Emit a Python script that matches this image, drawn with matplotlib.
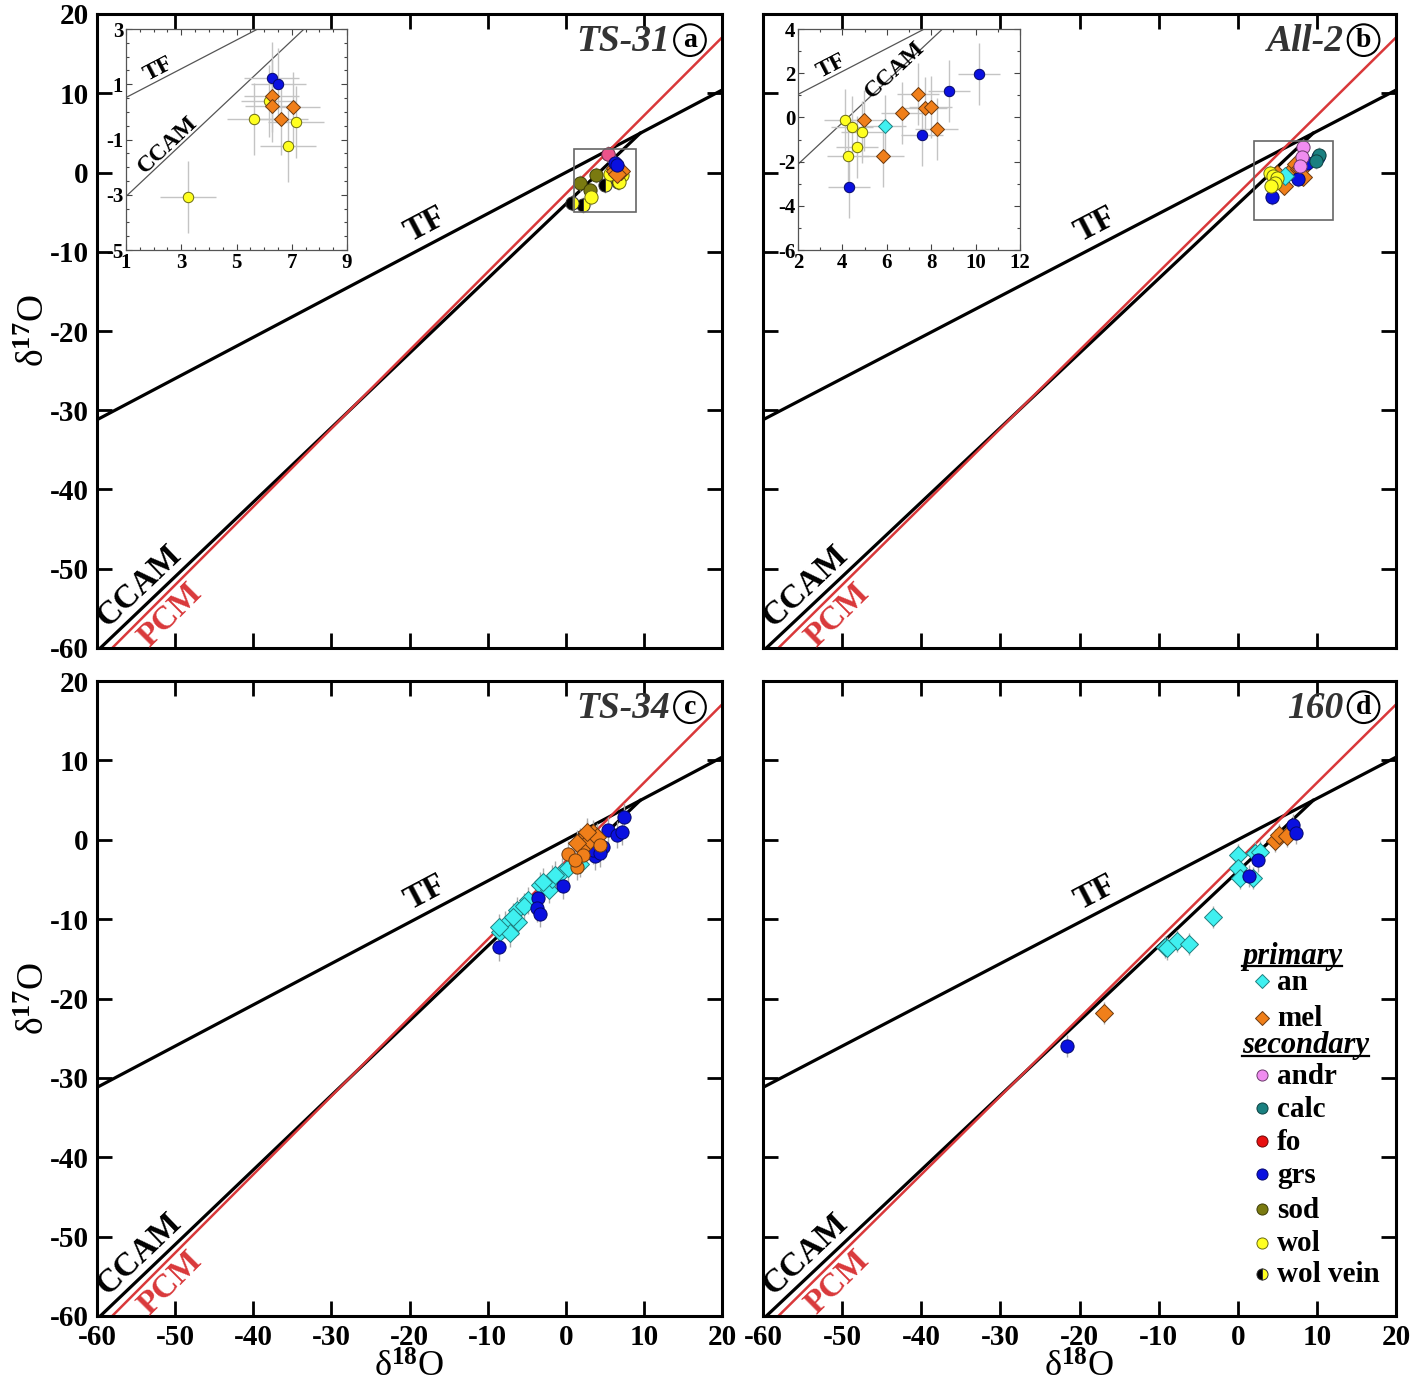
import matplotlib.pyplot as plt
import numpy as np
from matplotlib.patches import Rectangle

plt.rcParams['font.family'] = ['Liberation Serif', 'DejaVu Serif']
plt.rcParams['font.weight'] = 'bold'
plt.rcParams['axes.unicode_minus'] = False
plt.rcParams['mathtext.fontset'] = 'custom'
plt.rcParams['mathtext.rm'] = 'Liberation Serif:bold'
plt.rcParams['mathtext.default'] = 'rm'

# reference lines: d17O = slope * d18O + intercept
tf_slope, tf_icpt = 0.52, 0.0
ccam_slope, ccam_icpt = 0.94, -4.0
pcm_slope, pcm_icpt = 0.987, -2.70

# ---- panel a : TS-31 ----
a_grs_x = [6.28, 6.52]
a_grs_y = [1.22, 1.00]
a_mel_x = [6.28, 6.30, 7.04, 6.60]
a_mel_y = [0.58, 0.22, 0.16, -0.25]
a_wol_x = [6.16, 5.65, 7.15, 6.86, 3.24]
a_wol_y = [0.38, -0.25, -0.37, -1.25, -3.07]
a_sod_x = [1.8, 3.9, 3.1]
a_sod_y = [-1.3, -0.3, -2.2]
a_vein_x = [0.8, 2.2, 5.0, 6.7]
a_vein_y = [-3.8, -4.1, -1.6, -1.2]
a_fo_x = [5.45]
a_fo_y = [2.3]
a_andr_x = [5.45]
a_andr_y = [2.3]

# ---- panel b : All-2 ----
b_wol_x = [4.11, 4.44, 4.90, 4.66, 4.26]
b_wol_y = [-0.11, -0.44, -0.68, -1.35, -1.74]
b_mel_x = [4.98, 5.83, 6.69, 7.41, 7.74, 7.97, 8.24]
b_mel_y = [-0.14, -1.74, 0.19, 1.05, 0.42, 0.47, -0.53]
b_an_x = [5.91]
b_an_y = [-0.38]
b_grs_x = [4.30, 7.59, 8.81, 10.15]
b_grs_y = [-3.13, -0.79, 1.21, 1.96]
b_andr_x = [8.2, 8.1, 7.9]
b_andr_y = [3.2, 1.9, 0.8]
b_calc_x = [10.3, 9.9]
b_calc_y = [2.2, 1.4]

# ---- panel c : TS-34 ----
c_an_x = [-8.4, -7.8, -6.3, -6.1, -6.7, -4.8, -3.3, -2.2, -1.8, -0.5, -7.1, -8.6,
          -5.4, -2.9, -1.4, 0.3, 1.8]
c_an_y = [-11.6, -10.7, -8.9, -10.3, -9.7, -7.6, -5.7, -6.3, -4.9, -4.0, -11.8, -11.0,
          -8.4, -5.3, -4.4, -3.6, -3.0]
c_grs_x = [-8.6, -3.5, -3.7, -3.3, -0.4, 3.7, 3.5, 4.8, 5.4, 6.5, 7.15, 7.4, 4.4]
c_grs_y = [-13.55, -7.4, -8.6, -9.3, -5.8, -2.1, -1.3, -0.9, 1.2, 0.6, 1.0, 2.9, -1.7]
c_mel_x = [1.8, 2.7, 3.5, 2.25, 3.1, 3.96, 1.4, 2.7]
c_mel_y = [-0.25, 0.6, 0.8, -0.9, -0.03, 0.4, -0.45, 1.0]
c_melr_x = [0.3, 1.4, 2.17, 4.4, 1.2]
c_melr_y = [-1.8, -3.4, -1.9, -0.66, -2.6]

# ---- panel d : 160 ----
d_an_x = [0.07, 0.07, 0.28, 1.96, 2.18, 2.8, -3.17, -9.2, -7.7, -6.1, -9.0]
d_an_y = [-1.9, -3.6, -4.86, -4.86, -1.7, -1.5, -9.7, -13.5, -12.8, -13.1, -13.7]
d_grs_x = [2.6, 1.4, 7.0, 7.36, -21.6]
d_grs_y = [-2.6, -4.6, 1.86, 0.9, -26.0]
d_mel_x = [4.7, 5.25, 6.2, -16.9]
d_mel_y = [-0.1, 0.6, 0.5, -21.8]

legend_primary = ['an', 'mel']
legend_secondary = ['andr', 'calc', 'fo', 'grs', 'sod', 'wol', 'wol vein']

styles = {
    'an':   dict(marker='D', mfc='#3ff0f0', mec='#1f7f7f'),
    'mel':  dict(marker='D', mfc='#f07f1a', mec='#6b3a10'),
    'melr': dict(marker='o', mfc='#f07f1a', mec='#6b3a10'),
    'andr': dict(marker='o', mfc='#f08cf0', mec='#6b3a6b'),
    'calc': dict(marker='o', mfc='#1a8080', mec='#0d4040'),
    'fo':   dict(marker='o', mfc='#e81010', mec='#6b0808'),
    'grs':  dict(marker='o', mfc='#0a10e0', mec='#05086b'),
    'sod':  dict(marker='o', mfc='#7a7a10', mec='#3d3d08'),
    'wol':  dict(marker='o', mfc='#ffff20', mec='#6b6b10'),
    'wol vein': dict(marker='o', mfc='black', mfcalt='#ffff20', fillstyle='left',
                     mec='#333333'),
}


def draw_points(ax, x, y, kind, xerr, yerr, ms, alpha=1.0, ecol='#c4c4c4'):
    ax.errorbar(x, y, xerr=xerr, yerr=yerr, fmt='none', ecolor=ecol,
                elinewidth=1, zorder=2)
    ax.plot(x, y, linestyle='none', markersize=ms, markeredgewidth=0.7,
            alpha=alpha, zorder=3, **styles[kind])


def base_panel(ax, name, letter):
    xs = np.array([-60.0, 20.0])
    ax.plot(xs, tf_slope * xs + tf_icpt, color='black', lw=2.3, zorder=1)
    x_meet = (ccam_icpt - tf_icpt) / (tf_slope - ccam_slope)
    xc = np.array([-60.0, x_meet])
    ax.plot(xc, ccam_slope * xc + ccam_icpt, color='black', lw=2.3, zorder=1)
    ax.plot(xs, pcm_slope * xs + pcm_icpt, color='#d9383a', lw=1.8, zorder=1)
    ax.set_xlim(-60, 20)
    ax.set_ylim(-60, 20)
    ax.set_xticks(np.arange(-60, 21, 10))
    ax.set_yticks(np.arange(-60, 21, 10))
    ax.tick_params(direction='in', length=11, width=2, top=True, right=True,
                   labelsize=21, pad=6)
    for s in ax.spines.values():
        s.set_linewidth(2.2)
    ang_tf = np.degrees(np.arctan(tf_slope))
    ang_cc = np.degrees(np.arctan(ccam_slope))
    ang_pc = np.degrees(np.arctan(pcm_slope))
    ax.text(-18, -6.6, 'TF', fontsize=24, ha='center', va='center',
            rotation=ang_tf, transform_rotates_text=True, rotation_mode='anchor')
    ax.text(-54.6, -52.2, 'CCAM', fontsize=24, ha='center', va='center',
            rotation=ang_cc, transform_rotates_text=True, rotation_mode='anchor')
    ax.text(-50.6, -55.8, 'PCM', fontsize=24, ha='center', va='center', color='#d9383a',
            rotation=ang_pc, transform_rotates_text=True, rotation_mode='anchor')
    ax.text(13.4, 16.5, name, fontsize=27, style='italic', color='#333333',
            ha='right', va='center')
    ax.text(15.9, 16.7, letter, fontsize=20, ha='center', va='center',
            bbox=dict(boxstyle='circle,pad=0.12', fc='white', ec='black', lw=1.5))


def inset_panel(fig, rect, xlim, ylim, major, minor, labels):
    ins = fig.add_axes(rect)
    xs = np.linspace(xlim[0], xlim[1], 50)
    ins.plot(xs, tf_slope * xs + tf_icpt, color='#555555', lw=0.9, zorder=1)
    ins.plot(xs, ccam_slope * xs + ccam_icpt, color='#555555', lw=0.9, zorder=1)
    ins.set_xlim(*xlim)
    ins.set_ylim(*ylim)
    ins.set_xticks(np.arange(xlim[0], xlim[1] + 0.01, major))
    ins.set_yticks(np.arange(ylim[0], ylim[1] + 0.01, major))
    ins.set_xticks(np.arange(xlim[0], xlim[1] + 0.01, minor), minor=True)
    ins.set_yticks(np.arange(ylim[0], ylim[1] + 0.01, minor), minor=True)
    ins.tick_params(which='both', direction='in', top=True, right=True,
                    labelsize=15, width=0.8, colors='#444444', labelcolor='black')
    ins.tick_params(which='major', length=4, pad=2)
    ins.tick_params(which='minor', length=2.5)
    for s in ins.spines.values():
        s.set_linewidth(0.9)
        s.set_color('#555555')
    (tx, ty), (cx, cy) = labels
    ins.text(tx, ty, 'TF', fontsize=17, ha='center', va='center',
             rotation=np.degrees(np.arctan(tf_slope)), transform_rotates_text=True,
             rotation_mode='anchor')
    ins.text(cx, cy, 'CCAM', fontsize=17, ha='center', va='center',
             rotation=np.degrees(np.arctan(ccam_slope)), transform_rotates_text=True,
             rotation_mode='anchor')
    return ins


fig = plt.figure(figsize=(14.18, 13.86), dpi=100)
W, H = 1418.0, 1386.0
ax_a = fig.add_axes([97 / W, 1 - 648 / H, 625 / W, 634 / H])
ax_b = fig.add_axes([763 / W, 1 - 648 / H, 633 / W, 634 / H])
ax_c = fig.add_axes([97 / W, 1 - 1316 / H, 625 / W, 635 / H])
ax_d = fig.add_axes([763 / W, 1 - 1316 / H, 633 / W, 635 / H])

base_panel(ax_a, 'TS-31', 'a')
base_panel(ax_b, 'All-2', 'b')
base_panel(ax_c, 'TS-34', 'c')
base_panel(ax_d, '160', 'd')

ms = 9.5
# panel a
draw_points(ax_a, a_sod_x, a_sod_y, 'sod', 0.5, 1.0, ms)
draw_points(ax_a, a_vein_x, a_vein_y, 'wol vein', 0.5, 1.0, ms)
draw_points(ax_a, a_wol_x, a_wol_y, 'wol', 0.5, 1.0, ms)
draw_points(ax_a, a_mel_x, a_mel_y, 'mel', 0.5, 1.0, ms)
draw_points(ax_a, a_fo_x, a_fo_y, 'fo', 0.5, 1.0, ms)
draw_points(ax_a, a_andr_x, a_andr_y, 'andr', 0.5, 1.0, ms, alpha=0.55)
draw_points(ax_a, a_grs_x, a_grs_y, 'grs', 0.5, 1.0, ms)
ax_a.add_patch(Rectangle((1, -5), 8, 8, fill=False, ec='#666666', lw=1.2, zorder=4))

# panel b
draw_points(ax_b, b_mel_x, b_mel_y, 'mel', 0.5, 1.0, ms)
draw_points(ax_b, b_grs_x, b_grs_y, 'grs', 0.5, 1.0, ms)
draw_points(ax_b, b_calc_x, b_calc_y, 'calc', 0.5, 1.0, ms)
draw_points(ax_b, b_andr_x, b_andr_y, 'andr', 0.5, 1.0, ms)
draw_points(ax_b, b_an_x, b_an_y, 'an', 0.5, 1.0, ms)
draw_points(ax_b, b_wol_x, b_wol_y, 'wol', 0.5, 1.0, ms)
ax_b.add_patch(Rectangle((2, -6), 10, 10, fill=False, ec='#666666', lw=1.2, zorder=4))

# panel c
draw_points(ax_c, c_an_x, c_an_y, 'an', 0.4, 1.7, ms, ecol='#aaaaaa')
draw_points(ax_c, c_grs_x, c_grs_y, 'grs', 0.4, 1.7, ms, ecol='#aaaaaa')
draw_points(ax_c, c_mel_x, c_mel_y, 'mel', 0.4, 1.7, ms, ecol='#aaaaaa')
draw_points(ax_c, c_melr_x, c_melr_y, 'melr', 0.4, 1.7, ms, ecol='#aaaaaa')

# panel d
draw_points(ax_d, d_an_x, d_an_y, 'an', 0.4, 1.4, ms, ecol='#aaaaaa')
draw_points(ax_d, d_mel_x, d_mel_y, 'mel', 0.4, 1.4, ms, ecol='#aaaaaa')
draw_points(ax_d, d_grs_x, d_grs_y, 'grs', 0.4, 1.4, ms, ecol='#aaaaaa')

# insets
ins_a = inset_panel(fig, [126 / W, 1 - 250 / H, 221 / W, 221 / H], (1, 9), (-5, 3),
                    2, 0.5, ((2.17, 1.53), (2.53, -1.19)))
ms_in = 7.5
draw_points(ins_a, a_wol_x, a_wol_y, 'wol', 1.0, 1.3, ms_in)
draw_points(ins_a, a_mel_x, a_mel_y, 'mel', 1.0, 1.3, ms_in)
draw_points(ins_a, a_grs_x, a_grs_y, 'grs', 1.0, 1.3, ms_in)

ins_b = inset_panel(fig, [798 / W, 1 - 250 / H, 222 / W, 221 / H], (2, 12), (-6, 4),
                    2, 1, ((3.5, 2.3), (6.36, 2.16)))
draw_points(ins_b, b_mel_x, b_mel_y, 'mel', 0.95, 1.4, ms_in)
draw_points(ins_b, b_grs_x, b_grs_y, 'grs', 0.95, 1.4, ms_in)
draw_points(ins_b, b_an_x, b_an_y, 'an', 0.95, 1.4, ms_in)
draw_points(ins_b, b_wol_x, b_wol_y, 'wol', 0.95, 1.4, ms_in)

# tick labels only on outer panels
ax_a.tick_params(labelbottom=False)
ax_b.tick_params(labelbottom=False, labelleft=False)
ax_d.tick_params(labelleft=False)

ax_a.set_ylabel('δ$^{17}$O', fontsize=27, labelpad=-2)
ax_c.set_ylabel('δ$^{17}$O', fontsize=27, labelpad=-2)
ax_c.set_xlabel('δ$^{18}$O', fontsize=26, labelpad=0)
ax_d.set_xlabel('δ$^{18}$O', fontsize=26, labelpad=0)

# legend in panel d, built by hand
mk_x, tx_x, hd_x = 0.788, 0.812, 0.757
rows = [('primary', None)] + [(k, k) for k in legend_primary] + \
       [('secondary', None)] + [(k, k) for k in legend_secondary]
row_y = [0.555, 0.514, 0.456, 0.414, 0.366, 0.314, 0.262, 0.210, 0.155, 0.102, 0.053]
headers = []
for (label, kind), yy in zip(rows, row_y):
    if kind is None:
        t = ax_d.text(hd_x, yy, label, transform=ax_d.transAxes, fontsize=22,
                      style='italic', ha='left', va='baseline')
        headers.append((t, yy))
    else:
        ax_d.plot([mk_x], [yy + 0.013], transform=ax_d.transAxes, linestyle='none',
                  markersize=8 if styles[kind]['marker'] == 'o' else 7.5,
                  markeredgewidth=0.7, zorder=5, **styles[kind])
        ax_d.text(tx_x, yy, label, transform=ax_d.transAxes, fontsize=21,
                  ha='left', va='baseline')

fig.canvas.draw()
inv = ax_d.transAxes.inverted()
for t, yy in headers:
    bb = t.get_window_extent().transformed(inv)
    ax_d.plot([bb.x0, bb.x1], [yy - 0.004, yy - 0.004], transform=ax_d.transAxes,
              color='black', lw=1.6)

fig.savefig('out.png', dpi=100)
